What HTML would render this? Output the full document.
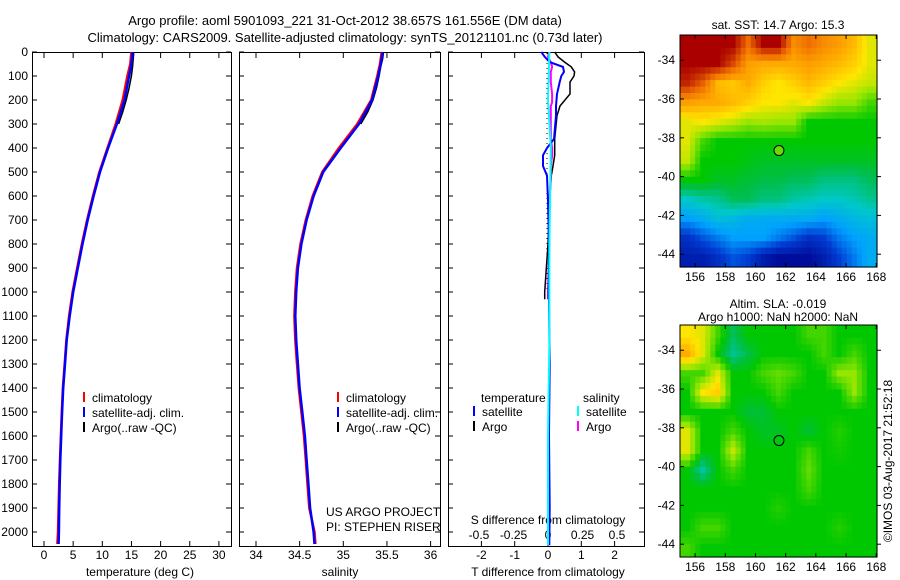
<!DOCTYPE html>
<html><head><meta charset="utf-8"><style>
body{margin:0;background:#fff;}
svg{display:block;font-family:"Liberation Sans",sans-serif;}
text{font-size:12px;fill:#000;}
</style></head><body>
<svg id="c" width="900" height="580"></svg>
<script>
// ---- data ----
const depths=[0,50,100,200,300,400,500,600,700,800,900,1000,1100,1200,1300,1400,1500,1600,1700,1800,1900,2000,2050];
const tempSat=[15.2,15.0,14.6,13.8,12.5,11.0,9.6,8.5,7.5,6.6,5.8,5.0,4.4,3.9,3.6,3.3,3.1,2.95,2.8,2.7,2.6,2.55,2.5];
const tempClim=[15.0,14.8,14.3,13.5,12.3,10.9,9.5,8.4,7.4,6.5,5.7,4.9,4.3,3.85,3.55,3.25,3.05,2.9,2.75,2.6,2.5,2.4,2.3];
const argoDepths=[0,30,60,100,150,200,250,300];
const tempArgo=[15.4,15.3,15.2,15.0,14.6,14.1,13.5,12.8];
const salSat=[35.45,35.43,35.40,35.33,35.18,34.97,34.77,34.66,34.58,34.52,34.48,34.46,34.45,34.46,34.48,34.50,34.53,34.56,34.58,34.60,34.62,34.66,34.67];
const salClim=[35.44,35.42,35.39,35.32,35.16,34.95,34.76,34.65,34.57,34.51,34.47,34.45,34.44,34.45,34.47,34.49,34.52,34.55,34.57,34.59,34.61,34.67,34.68];
const salArgo=[35.46,35.45,35.43,35.41,35.38,35.34,35.28,35.2];
const dDepths=[0,20,42,62,83,100,125,175,210,225,265,362,400,430,475,515,620,800,1000,1030];
const dTArgo=[0.2,0.3,0.5,0.7,0.8,0.78,0.66,0.66,0.45,0.36,0.27,0.2,0.2,0.2,0.15,0.1,0.05,0.0,-0.1,-0.1];
const dTSat=[-0.2,-0.1,0.05,0.45,0.48,0.4,0.35,0.27,0.25,0.24,0.24,0.18,-0.03,-0.15,-0.15,-0.03,0.0,0.03,0.02,0.02];
const dSSatDepths=[0,200,400,800,1200,1600,2055];
const dSSat=[0.01,0.0,0.02,0.01,0.01,0.0,0.0];
const dTSatDeepDepths=[1030,1300,1600,1900,2055];
const dTSatDeep=[0.03,0.05,0.03,0.05,0.04];
const dSArgo=[0.01,0.0,0.02,0.03,0.02,0.02,0.02,0.03,0.03,0.02,0.02,0.02,0.03,0.03,0.02,0.02,0.01,0.01,0.0,0.0];
const yTicks=[0,100,200,300,400,500,600,700,800,900,1000,1100,1200,1300,1400,1500,1600,1700,1800,1900,2000];
const tTicks=[0,5,10,15,20,25,30];
const sTicks=[34,34.5,35,35.5,36];
const dTTicks=[-2,-1,0,1,2];
const dSTicks=[-0.5,-0.25,0,0.25,0.5];
const lonTicks=[156,158,160,162,164,166,168];
const latTicks=[-34,-36,-38,-40,-42,-44];
const sstGrid=[
[.95,.95,.95,.95,.8,.95,.95,.75,.8,.75,.72,.68,.6],
[.95,.95,.95,.85,.72,.7,.7,.7,.72,.7,.68,.65,.6],
[.9,.82,.68,.66,.7,.65,.62,.65,.68,.65,.62,.6,.58],
[.72,.7,.7,.68,.65,.62,.62,.6,.62,.58,.55,.55,.5],
[.6,.62,.6,.58,.55,.56,.55,.55,.46,.46,.46,.46,.46],
[.6,.5,.46,.46,.46,.46,.46,.46,.46,.46,.46,.46,.46],
[.58,.46,.46,.46,.45,.44,.44,.44,.44,.44,.44,.44,.44],
[.46,.46,.44,.44,.43,.42,.42,.41,.41,.39,.39,.39,.41],
[.35,.37,.38,.41,.41,.39,.39,.37,.36,.35,.35,.36,.38],
[.28,.3,.33,.32,.3,.3,.3,.3,.3,.28,.3,.32,.33],
[.18,.22,.25,.28,.28,.28,.25,.22,.18,.2,.25,.28,.3],
[.15,.15,.18,.22,.2,.15,.12,.12,.12,.15,.2,.25,.3]];
const slaGrid=[
[.62,.6,.5,.41,.46,.46,.46,.46,.5,.5,.46,.46,.46],
[.7,.6,.46,.38,.42,.46,.46,.46,.46,.5,.46,.5,.46],
[.5,.5,.6,.46,.46,.5,.52,.5,.46,.46,.55,.55,.46],
[.46,.62,.65,.46,.46,.46,.5,.46,.46,.46,.46,.55,.46],
[.46,.46,.46,.46,.43,.43,.46,.46,.46,.46,.46,.46,.46],
[.6,.46,.46,.5,.46,.44,.44,.46,.43,.46,.48,.46,.46],
[.6,.46,.46,.58,.46,.46,.46,.46,.5,.46,.47,.46,.46],
[.46,.37,.46,.5,.46,.46,.46,.46,.52,.46,.46,.46,.46],
[.46,.46,.46,.46,.46,.46,.46,.46,.5,.46,.46,.46,.46],
[.46,.46,.46,.46,.46,.46,.48,.46,.46,.46,.46,.46,.46],
[.46,.5,.5,.46,.46,.46,.46,.46,.46,.46,.48,.46,.46],
[.5,.46,.46,.46,.46,.46,.46,.46,.46,.46,.46,.46,.46]];
const argoLon=161.556, argoLat=-38.657;

const NS="http://www.w3.org/2000/svg";
const svg=document.getElementById('c');
function el(tag,attrs,parent){const e=document.createElementNS(NS,tag);for(const k in attrs)e.setAttribute(k,attrs[k]);(parent||svg).appendChild(e);return e;}
function txt(x,y,s,anchor,parent,name){const t=el('text',{x:x,y:y,'text-anchor':anchor||'middle'},parent);t.textContent=s;

return t;}
const yD=d=>52+d*0.24;
const xT=v=>44+v*5.83;
const xS=v=>256+(v-34)*87.3;
const xdT=v=>548+v*33.3;
const xdS=v=>548+v*138;
function line(ds,vs,xf,color,w,name,dash){const pts=ds.map((d,i)=>xf(vs[i]).toFixed(1)+','+yD(d).toFixed(1)).join(' ');
const p=el('polyline',{points:pts,fill:'none',stroke:color,'stroke-width':w});if(dash)p.setAttribute('stroke-dasharray',dash);

return p;}
function panel(x0,x1,name){const r=el('rect',{x:x0+.5,y:52.5,width:x1-x0,height:494,fill:'none',stroke:'#000'});

}
function xticks(vals,xf,y,labels){vals.forEach(v=>{const x=xf(v);el('line',{x1:x,x2:x,y1:53,y2:58,stroke:'#000'});el('line',{x1:x,x2:x,y1:546,y2:541,stroke:'#000'});
if(labels)txt(x,y,String(v),'middle',null,'x-tick-label');});}

txt(345,25,'Argo profile: aoml 5901093_221 31-Oct-2012 38.657S 161.556E (DM data)','middle',null,'title-line-1').style.fontSize='13px';
txt(345,42,'Climatology: CARS2009. Satellite-adjusted climatology: synTS_20121101.nc (0.73d later)','middle',null,'title-line-2').style.fontSize='13px';

panel(32,231,'temperature-panel');panel(239,440,'salinity-panel');panel(448,644,'difference-panel');
yTicks.forEach(d=>{const y=yD(d);txt(28,y+4,String(d),'end',null,'y-tick-label');
[[32,231],[239,440],[448,644]].forEach(p=>{el('line',{x1:p[0],x2:p[0]+5,y1:y,y2:y,stroke:'#000'});el('line',{x1:p[1],x2:p[1]-5,y1:y,y2:y,stroke:'#000'});});});
xticks(tTicks,xT,559,true);xticks(sTicks,xS,559,true);xticks(dTTicks,xdT,559,true);
dSTicks.forEach(v=>txt(xdS(v),539,String(v),'middle',null,'s-diff-tick-label'));
txt(140,576,'temperature (deg C)','middle',null,'x-axis-title-temperature');
txt(340,576,'salinity','middle',null,'x-axis-title-salinity');
txt(548,576,'T difference from climatology','middle',null,'x-axis-title-t-diff');
txt(548,524,'S difference from climatology','middle',null,'x-axis-title-s-diff');
txt(326,516,'US ARGO PROJECT','start',null,'project-label');
txt(326,531,'PI: STEPHEN RISER','start',null,'pi-label');

line(depths,tempClim,xT,'#f00',2.5,'temperature-climatology-line');
line(argoDepths,tempArgo,xT,'#000',1.5,'temperature-argo-line');
line(depths,tempSat,xT,'#00f',2.5,'temperature-satellite-line');
line(depths,salClim,xS,'#f00',2.5,'salinity-climatology-line');
line(argoDepths,salArgo,xS,'#000',1.5,'salinity-argo-line');
line(depths,salSat,xS,'#00f',2.5,'salinity-satellite-line');
el('line',{x1:547,x2:547,y1:53,y2:yD(1000),stroke:'#000','stroke-dasharray':'1,4'});
line(dDepths,dTArgo,xdT,'#000',1.5,'t-diff-argo-line');
line(dDepths,dSArgo,xdS,'#f0f',2,'s-diff-argo-line');
line(dDepths,dTSat,xdT,'#00f',2,'t-diff-satellite-line');
line(dTSatDeepDepths,dTSatDeep,xdT,'#00f',2,'t-diff-satellite-deep-line');
line(dSSatDepths,dSSat,xdS,'#0ff',2,'s-diff-satellite-line');

function leg(x,y,color,label,name){el('line',{x1:x,x2:x,y1:y-10,y2:y,stroke:color,'stroke-width':2});txt(x+8,y,label,'start',null,name);}
[[84,'climatology'],[84,'satellite-adj. clim.'],[84,'Argo(..raw -QC)']].forEach((r,i)=>leg(r[0],402+i*15,['#f00','#00f','#000'][i],r[1],'temp-legend-entry'));
[[338,'climatology'],[338,'satellite-adj. clim.'],[338,'Argo(..raw -QC)']].forEach((r,i)=>leg(r[0],402+i*15,['#f00','#00f','#000'][i],r[1],'sal-legend-entry'));
txt(481,402,'temperature','start',null,'legend-heading-temperature');
txt(583,402,'salinity','start',null,'legend-heading-salinity');
leg(474,416,'#00f','satellite','legend-t-satellite');leg(474,431,'#000','Argo','legend-t-argo');
leg(578,416,'#0ff','satellite','legend-s-satellite');leg(578,431,'#f0f','Argo','legend-s-argo');

// colormap resembling reference palette
const cmStops=[[0,[0,0,120]],[0.1,[0,0,140]],[0.2,[0,60,210]],[0.28,[0,160,255]],[0.35,[0,200,200]],[0.42,[0,190,70]],[0.46,[0,200,0]],[0.55,[150,230,0]],[0.62,[255,230,0]],[0.7,[255,170,0]],[0.8,[240,110,0]],[0.95,[170,0,0]],[1,[150,0,0]]];
function cmap(v){for(let i=1;i<cmStops.length;i++){if(v<=cmStops[i][0]){const a=cmStops[i-1],b=cmStops[i],t=(v-a[0])/(b[0]-a[0]);
return 'rgb('+a[1].map((c,k)=>Math.round(c+(b[1][k]-c)*t)).join(',')+')';}}return 'rgb(150,0,0)';}
function sample(grid,fi,fj){const R=grid.length-1,C=grid[0].length-1;fi=Math.max(0,Math.min(R,fi));fj=Math.max(0,Math.min(C,fj));
const i0=Math.floor(fi),j0=Math.floor(fj),i1=Math.min(R,i0+1),j1=Math.min(C,j0+1),ti=fi-i0,tj=fj-j0;
return grid[i0][j0]*(1-ti)*(1-tj)+grid[i0][j1]*(1-ti)*tj+grid[i1][j0]*ti*(1-tj)+grid[i1][j1]*ti*tj;}
function map(y0,grid,name,title1,title2){
 const L=680,R=877,T=y0,B=y0+232;
 const lx=v=>L+(v-155)*(R-L)/13.05, ly=v=>T+(-32.7-v)*(B-T)/11.96;
 const g=el('g',{});
 const rows=grid.length,cols=grid[0].length,S=3,cw=(R-L)/(cols*S),ch=(B-T)/(rows*S);
 for(let i=0;i<rows*S;i++)for(let j=0;j<cols*S;j++){
  const v=sample(grid,(i+0.5)/S-0.5,(j+0.5)/S-0.5);
  const c=el('rect',{x:(L+j*cw).toFixed(2),y:(T+i*ch).toFixed(2),width:(cw+0.6).toFixed(2),height:(ch+0.6).toFixed(2),fill:cmap(v)},g);
  
  }
 el('rect',{x:L,y:T,width:R-L,height:B-T,fill:'none',stroke:'#000'});
 lonTicks.forEach(v=>{const x=lx(v);el('line',{x1:x,x2:x,y1:T,y2:T+4,stroke:'#000'});el('line',{x1:x,x2:x,y1:B,y2:B-4,stroke:'#000'});txt(x,B+14,String(v),'middle',null,'lon-tick-label');});
 latTicks.forEach(v=>{const y=ly(v);el('line',{x1:L,x2:L+4,y1:y,y2:y,stroke:'#000'});el('line',{x1:R,x2:R+4,y1:y,y2:y,stroke:'#000'});txt(L-5,y+4,String(v),'end',null,'lat-tick-label');});
 const c=el('circle',{cx:lx(argoLon),cy:ly(argoLat),r:5,fill:name==='sst-map'?'#6d0':'none',stroke:'#000'});
 
 
 if(title2){txt(778,y0-17,title1,'middle',null,'map-title');txt(778,y0-4,title2,'middle',null,'map-subtitle');}
 else txt(778,y0-6,title1,'middle',null,'map-title');
}
map(35,sstGrid,'sst-map','sat. SST: 14.7 Argo: 15.3');
map(325,slaGrid,'sla-map','Altim. SLA: -0.019','Argo h1000: NaN h2000: NaN');
const cr=txt(0,0,'©IMOS 03-Aug-2017 21:52:18','middle',null,'copyright-timestamp');
cr.setAttribute('transform','translate(892,461) rotate(-90)');
</script>
</body></html>
